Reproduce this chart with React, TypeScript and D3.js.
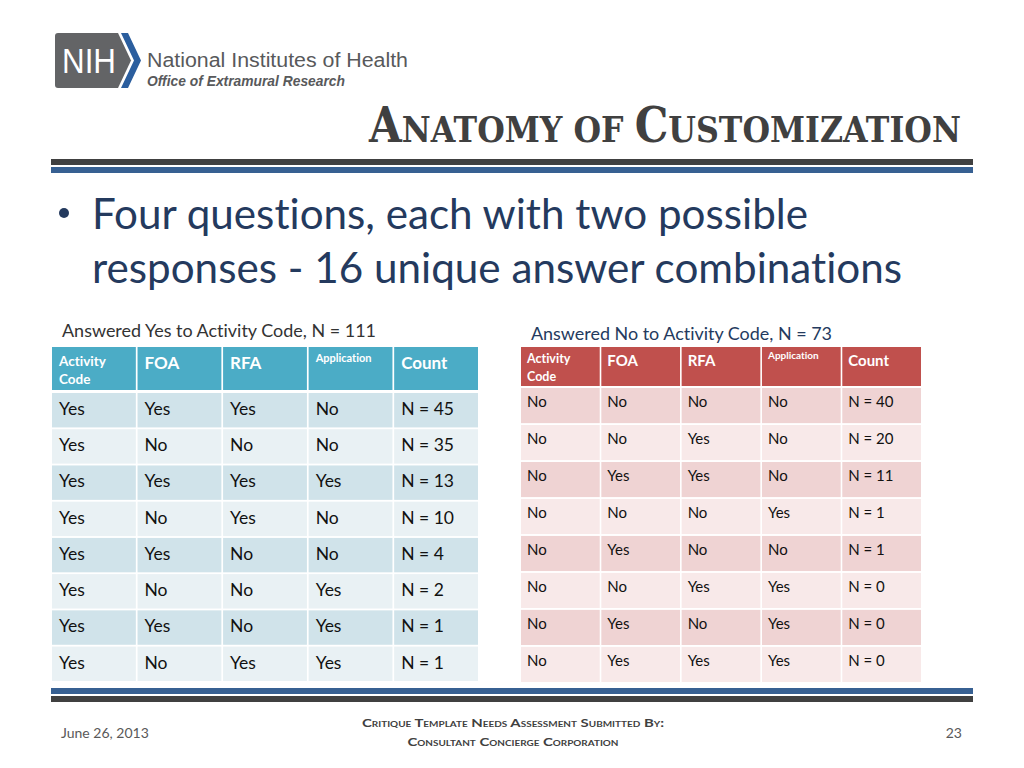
import React, { useRef, useEffect } from "react";
import * as d3 from "d3";

const headers = ["Activity Code", "FOA", "RFA", "Application", "Count"];

const yesTitle = "Answered Yes to Activity Code, N = 111";
const yesFoa = ["Yes", "No", "Yes", "No", "Yes", "No", "Yes", "No"];
const yesRfa = ["Yes", "No", "Yes", "Yes", "No", "No", "No", "Yes"];
const yesApp = ["No", "No", "Yes", "No", "No", "Yes", "Yes", "Yes"];
const yesCount = [45, 35, 13, 10, 4, 2, 1, 1];

const noTitle = "Answered No to Activity Code, N = 73";
const noFoa = ["No", "No", "Yes", "No", "Yes", "No", "Yes", "Yes"];
const noRfa = ["No", "Yes", "Yes", "No", "No", "Yes", "No", "Yes"];
const noApp = ["No", "No", "No", "Yes", "No", "Yes", "Yes", "Yes"];
const noCount = [40, 20, 11, 1, 1, 0, 0, 0];

const FONT = "Lato, 'Open Sans', sans-serif";

function drawTable(g, opt) {
  const rows = opt.count.map((c, i) => [
    opt.code,
    opt.foa[i],
    opt.rfa[i],
    opt.app[i],
    `N = ${c}`,
  ]);
  const x = d3
    .scaleBand()
    .domain(d3.range(headers.length))
    .range([opt.x0, opt.x1])
    .paddingInner(0.02)
    .paddingOuter(0);
  const y = d3
    .scaleBand()
    .domain(d3.range(rows.length))
    .range([opt.bodyTop, opt.bodyBottom])
    .paddingInner(0.05)
    .paddingOuter(0);

  // caption
  g.append("text")
    .attr("x", opt.captionX)
    .attr("y", opt.captionY)
    .attr("font-family", FONT)
    .attr("font-size", 17)
    .attr("fill", opt.captionColor)
    .attr("textLength", opt.captionLen)
    .attr("lengthAdjust", "spacingAndGlyphs")
    .text(opt.title);

  // header
  const hd = g
    .selectAll("g.hd")
    .data(headers)
    .enter()
    .append("g")
    .attr("class", "hd");
  hd.append("rect")
    .attr("x", (d, i) => x(i))
    .attr("y", opt.headTop)
    .attr("width", x.bandwidth())
    .attr("height", opt.headBottom - opt.headTop)
    .attr("fill", opt.headColor);
  hd.each(function (d, i) {
    const t = d3
      .select(this)
      .append("text")
      .attr("font-family", FONT)
      .attr("font-weight", 700)
      .attr("fill", "#fff");
    if (d === "Activity Code") {
      t.attr("font-size", opt.hSmall);
      t.append("tspan")
        .attr("x", x(i) + opt.pad)
        .attr("y", opt.headTop + opt.hAct1)
        .text("Activity");
      t.append("tspan")
        .attr("x", x(i) + opt.pad)
        .attr("y", opt.headTop + opt.hAct2)
        .text("Code");
    } else if (d === "Application") {
      t.attr("font-size", opt.hTiny)
        .attr("x", x(i) + opt.pad)
        .attr("y", opt.headTop + opt.hApp)
        .text(d);
    } else {
      t.attr("font-size", opt.hBig)
        .attr("x", x(i) + opt.pad)
        .attr("y", opt.headTop + opt.hBigY)
        .text(d);
    }
  });

  // body
  const rg = g
    .selectAll("g.row")
    .data(rows)
    .enter()
    .append("g")
    .attr("class", "row")
    .attr("transform", (d, i) => `translate(0,${y(i)})`);
  rg.selectAll("rect")
    .data((d, i) => d.map((v) => ({ v, r: i })))
    .enter()
    .append("rect")
    .attr("x", (d, i) => x(i))
    .attr("width", x.bandwidth())
    .attr("height", y.bandwidth())
    .attr("fill", (d) => (d.r % 2 === 0 ? opt.dark : opt.light));
  rg.selectAll("text")
    .data((d) => d)
    .enter()
    .append("text")
    .attr("x", (d, i) => x(i) + opt.pad)
    .attr("y", opt.textY)
    .attr("font-family", FONT)
    .attr("font-size", opt.bodySize)
    .attr("fill", "#111")
    .text((d) => d);
}

function App() {
  const canvas = useRef(null);

  function drawChart() {
    const svg = d3.select(canvas.current);
    svg.selectAll("*").remove();
    svg.append("rect").attr("width", 1024).attr("height", 768).attr("fill", "#fff");

    // NIH logo
    const logo = svg.append("g");
    logo
      .append("path")
      .attr("d", "M58,33 L118,33 L131,60.5 L118,88 L58,88 Q55,88 55,85 L55,36 Q55,33 58,33 Z")
      .attr("fill", "#636466");
    logo
      .append("path")
      .attr("d", "M121,33 L128,33 L141,60.5 L128,88 L121,88 L134,60.5 Z")
      .attr("fill", "#2b5e9e");
    logo
      .append("text")
      .attr("x", 62)
      .attr("y", 73)
      .attr("font-family", "'Liberation Sans', Arial, sans-serif")
      .attr("font-size", 35)
      .attr("fill", "#fff")
      .attr("textLength", 54)
      .attr("lengthAdjust", "spacingAndGlyphs")
      .text("NIH");
    logo
      .append("text")
      .attr("x", 147)
      .attr("y", 67)
      .attr("font-family", "'Liberation Sans', Arial, sans-serif")
      .attr("font-size", 20)
      .attr("fill", "#58595b")
      .attr("textLength", 261)
      .attr("lengthAdjust", "spacingAndGlyphs")
      .text("National Institutes of Health");
    logo
      .append("text")
      .attr("x", 147)
      .attr("y", 86)
      .attr("font-family", "'Liberation Sans', Arial, sans-serif")
      .attr("font-size", 14)
      .attr("font-weight", 700)
      .attr("font-style", "italic")
      .attr("fill", "#58595b")
      .attr("textLength", 198)
      .attr("lengthAdjust", "spacingAndGlyphs")
      .text("Office of Extramural Research");

    // title in small caps, squeezed to the reference width
    const tg = svg.append("g");
    const title = tg
      .append("text")
      .attr("x", 0)
      .attr("y", 0)
      .attr("font-family", "'DejaVu Serif', 'Liberation Serif', serif")
      .attr("font-weight", 700)
      .attr("fill", "#404040");
    [
      ["A", 48],
      ["NATOMY OF\u00a0", 36],
      ["C", 48],
      ["USTOMIZATION", 36],
    ].forEach(([s, f]) => title.append("tspan").attr("font-size", f).text(s));
    const tw = title.node().getComputedTextLength() || 592;
    tg.attr("transform", `translate(369,142) scale(${592 / tw},1)`);

    // rules
    const rules = [
      [159, 6, "#404040"],
      [167, 6, "#376092"],
      [688, 6, "#376092"],
      [696, 6, "#404040"],
    ];
    svg
      .selectAll("rect.rule")
      .data(rules)
      .enter()
      .append("rect")
      .attr("class", "rule")
      .attr("x", 51)
      .attr("y", (d) => d[0])
      .attr("width", 922)
      .attr("height", (d) => d[1])
      .attr("fill", (d) => d[2]);

    // bullet
    svg.append("circle").attr("cx", 64).attr("cy", 213).attr("r", 5).attr("fill", "#243a5e");
    svg
      .append("text")
      .attr("x", 92)
      .attr("y", 229)
      .attr("font-family", FONT)
      .attr("font-size", 42)
      .attr("fill", "#243a5e")
      .attr("textLength", 716)
      .attr("lengthAdjust", "spacingAndGlyphs")
      .text("Four questions, each with two possible");
    svg
      .append("text")
      .attr("x", 92)
      .attr("y", 283)
      .attr("font-family", FONT)
      .attr("font-size", 42)
      .attr("fill", "#243a5e")
      .attr("textLength", 810)
      .attr("lengthAdjust", "spacingAndGlyphs")
      .text("responses - 16 unique answer combinations");

    drawTable(svg.append("g"), {
      title: yesTitle,
      captionX: 62,
      captionY: 337,
      captionLen: 314,
      captionColor: "#333",
      code: "Yes",
      foa: yesFoa,
      rfa: yesRfa,
      app: yesApp,
      count: yesCount,
      x0: 52,
      x1: 478,
      headTop: 347,
      headBottom: 390,
      bodyTop: 393,
      bodyBottom: 681,
      headColor: "#4bacc6",
      dark: "#d0e3ea",
      light: "#e9f1f4",
      pad: 7,
      hSmall: 13.5,
      hTiny: 11,
      hBig: 17,
      hAct1: 19,
      hAct2: 37,
      hApp: 15,
      hBigY: 22,
      bodySize: 17.5,
      textY: 22,
    });

    drawTable(svg.append("g"), {
      title: noTitle,
      captionX: 531,
      captionY: 340,
      captionLen: 301,
      captionColor: "#243a5e",
      code: "No",
      foa: noFoa,
      rfa: noRfa,
      app: noApp,
      count: noCount,
      x0: 521,
      x1: 921,
      headTop: 347,
      headBottom: 386,
      bodyTop: 388,
      bodyBottom: 682,
      headColor: "#c0504d",
      dark: "#efd3d3",
      light: "#f8e9e9",
      pad: 6,
      hSmall: 12.5,
      hTiny: 10,
      hBig: 15,
      hAct1: 16,
      hAct2: 34,
      hApp: 12,
      hBigY: 19,
      bodySize: 15,
      textY: 19,
    });

    // footer
    svg
      .append("text")
      .attr("x", 61)
      .attr("y", 738)
      .attr("font-family", FONT)
      .attr("font-size", 14)
      .attr("fill", "#595959")
      .text("June 26, 2013");
    svg
      .append("text")
      .attr("x", 962)
      .attr("y", 738)
      .attr("text-anchor", "end")
      .attr("font-family", FONT)
      .attr("font-size", 14)
      .attr("fill", "#595959")
      .text("23");
    const foot = [
      ["Critique Template Needs Assessment Submitted By:", 727, 302],
      ["Consultant Concierge Corporation", 746, 211],
    ];
    svg
      .selectAll("text.foot")
      .data(foot)
      .enter()
      .append("text")
      .attr("class", "foot")
      .attr("x", 513)
      .attr("y", (d) => d[1])
      .attr("text-anchor", "middle")
      .attr("font-family", FONT)
      .attr("font-size", 12)
      .attr("font-weight", 700)
      .style("font-variant", "small-caps")
      .attr("fill", "#404040")
      .attr("textLength", (d) => d[2])
      .attr("lengthAdjust", "spacingAndGlyphs")
      .text((d) => d[0]);
  }

  useEffect(() => {
    drawChart();
  }, []);

  return (
    <svg
      ref={canvas}
      width={1024}
      height={768}
      style={{
        position: "absolute",
        left: 0,
        top: 0,
        display: "block",
        fontVariantLigatures: "none",
      }}
    ></svg>
  );
}

export default App;
